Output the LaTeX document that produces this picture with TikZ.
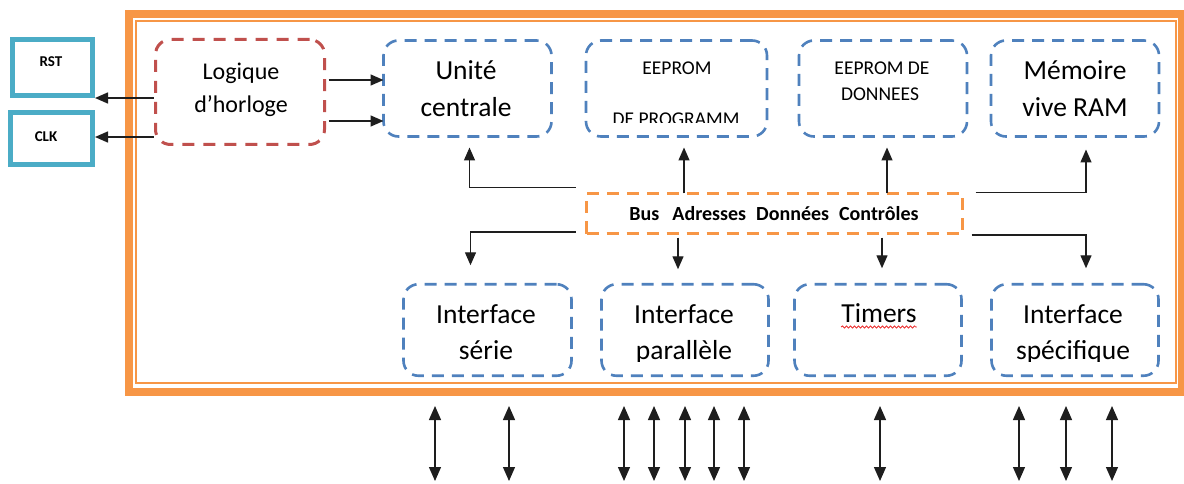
\documentclass[tikz,border=0pt]{standalone}
\usepackage{fontspec}
\setmainfont{Carlito}
\usetikzlibrary{calc,arrows.meta,decorations.pathmorphing}
\definecolor{frameorange}{RGB}{247,150,70}
\definecolor{blockblue}{RGB}{79,129,189}
\definecolor{clockred}{RGB}{192,80,77}
\definecolor{pinteal}{RGB}{75,172,198}
\definecolor{wire}{RGB}{30,30,30}
\definecolor{spellred}{RGB}{235,40,40}
\tikzset{
  block/.style={draw=blockblue, line width=2.6pt, dash pattern=on 12pt off 8pt,
    rounded corners=15pt, inner sep=0pt, outer sep=0pt,
    minimum width=168pt, minimum height=96pt},
  clockbox/.style={block, draw=clockred, line width=3pt, dash pattern=on 12pt off 9pt},
  busbox/.style={draw=frameorange, line width=3pt, dash pattern=on 12pt off 8pt,
    inner sep=0pt, outer sep=0pt, minimum width=376pt, minimum height=40pt},
  pinbox/.style={draw=pinteal, line width=5pt, inner sep=0pt,
    minimum width=80pt, minimum height=56pt},
  lblbig/.style={font=\fontsize{27.5}{33}\selectfont, inner sep=0pt, anchor=base},
  lblmid/.style={font=\fontsize{24}{29}\selectfont, inner sep=0pt, anchor=base},
  lblsmall/.style={font=\fontsize{19.5}{24}\selectfont, inner sep=0pt, anchor=base},
  lblbus/.style={font=\bfseries\fontsize{20}{24}\selectfont, inner sep=0pt, anchor=base},
  lblpin/.style={font=\bfseries\fontsize{15}{18}\selectfont, inner sep=0pt, anchor=base},
  arr/.style={draw=wire, line width=1.4pt, -{Triangle[length=13pt,width=11pt]}},
  pinarr/.style={draw=wire, line width=1.3pt,
    {Triangle[length=14pt,width=12pt]}-{Triangle[length=14pt,width=12pt]}},
}
\begin{document}
\begin{tikzpicture}[x=1pt, y=-1pt]
\useasboundingbox (0,0) rectangle (1184,484);
\fill[white] (0,0) rectangle (1184,484);

% double orange frame of the microcontroller
\draw[frameorange, line width=8pt] (128.5,14) rectangle (1181.5,391.5);
\draw[frameorange, line width=2pt] (136,21) rectangle (1176,382.5);

% external pins
\node[pinbox] (rst) at (52.5,67.5) {};
\node[pinbox, minimum width=82pt, minimum height=52pt] (clk) at (51.5,138.5) {};
\node[lblpin] (rsttxt) at (51,67) {RST};
\node[lblpin] (clktxt) at (46,141.5) {CLK};

% clock logic
\node[clockbox, minimum width=169pt, minimum height=105pt] (clock) at (240,92) {};
\node[lblmid] (clocka) at (241,80) {Logique};
\node[lblmid] (clockb) at (241,113) {d’horloge};

% upper row of blocks
\node[block] (unite) at (467.5,88.5) {};
\node[lblbig] (unitea) at (466,80) {Unité};
\node[lblbig] (uniteb) at (466,117) {centrale};

\node[block, minimum width=181pt] (eprog) at (676.5,88.5) {};
\node[lblsmall] (eproga) at (677,75) {EEPROM};
\begin{scope}
  \clip (eprog.north west) rectangle ($(eprog.south east)+(0,-13.5)$);
  \node[lblsmall] (eprogb) at (676,125.3) {DE PROGRAMM};
\end{scope}

\node[block] (edata) at (883,88.5) {};
\node[lblsmall] (edataa) at (882,75) {EEPROM DE};
\node[lblsmall] (edatab) at (880,101) {DONNEES};

\node[block] (ram) at (1075,88.5) {};
\node[lblbig] (rama) at (1075,80) {Mémoire};
\node[lblbig] (ramb) at (1075,117) {vive RAM};

% system bus
\node[busbox] (bus) at (774.5,213.5) {};
\node[lblbus] (bustxt) at (774,220)
  {Bus\hspace{13pt}Adresses\hspace{10pt}Données\hspace{10pt}Contrôles};

% lower row of blocks
\node[block, minimum height=91.5pt] (serie) at (487.5,330) {};
\node[block, minimum height=91.5pt, minimum width=167pt] (para) at (685,330) {};
\node[block, minimum height=91.5pt, minimum width=167pt] (tim) at (878,330) {};
\node[block, minimum height=91.5pt, minimum width=167pt] (spec) at (1075,330) {};

\node[lblbig] (seriea) at (486,323) {Interface};
\node[lblbig] (serieb) at (486,359.5) {série};
\node[lblbig] (paraa) at (684,323) {Interface};
\begin{scope}
  \clip (para.north west) rectangle ($(para.south east)+(0,-14.5)$);
  \node[lblbig] (parab) at (684,359.5) {parallèle};
\end{scope}
\node[lblbig] (timtxt) at (879,322.5) {Timers};
\draw[spellred, line width=0.8pt, decorate,
  decoration={snake, amplitude=1.1pt, segment length=4pt}]
  ($(timtxt.base west)+(0,4.5)$) -- ($(timtxt.base east)+(0,4.5)$);
\node[lblbig] (speca) at (1073,323) {Interface};
\begin{scope}
  \clip (spec.north west) rectangle ($(spec.south east)+(0,-14.5)$);
  \node[lblbig] (specb) at (1073,359.5) {spécifique};
\end{scope}

% clock logic outputs
\draw[arr] ($(clock.west)+(-2,6)$) -- (rst.south east);
\coordinate (ck) at ($(clock.west)+(-2,45)$);
\draw[arr] (ck) -- (ck -| clk.east);
\coordinate (cu1) at ($(clock.east)+(4,-12)$);
\draw[arr] (cu1) -- (cu1 -| unite.west);
\coordinate (cu2) at ($(clock.east)+(4,29)$);
\draw[arr] (cu2) -- (cu2 -| unite.west);

% bus to upper blocks
\coordinate (bnw) at ($(bus.north west)+(-11,-6)$);
\draw[arr] (bnw) -| ($(unite.south)+(2,11)$);
\coordinate (ep) at ($(eprog.south)+(7.5,11)$);
\draw[arr] (ep |- bus.north) -- (ep);
\coordinate (ed) at ($(edata.south)+(4,11)$);
\draw[arr] (ed |- bus.north) -- (ed);
\coordinate (bne) at ($(bus.north east)+(13,-1)$);
\draw[arr] (bne) -| ($(ram.south)+(11,13)$);

% bus to lower blocks
\coordinate (bsw) at ($(bus.south west)+(-11,-1.5)$);
\draw[arr] (bsw) -| ($(serie.north)+(-17,-19)$);
\coordinate (pa) at ($(para.north)+(-7,-15)$);
\draw[arr, shorten <=4pt] (pa |- bus.south) -- (pa);
\coordinate (ti) at ($(tim.north)+(4,-16)$);
\draw[arr, shorten <=4pt] (ti |- bus.south) -- (ti);
\coordinate (bse) at ($(bus.south east)+(9,1.5)$);
\draw[arr] (bse) -| ($(spec.north)+(11,-16)$);

% external input/output lines
\foreach \x [count=\i] in {435,509,624,654,685,714,744,880,1019,1066,1112}{
  \coordinate (io\i a) at (\x,406);
  \coordinate (io\i b) at (\x,481);
  \draw[pinarr] (io\i a) -- (io\i b);
}
\end{tikzpicture}
\end{document}
